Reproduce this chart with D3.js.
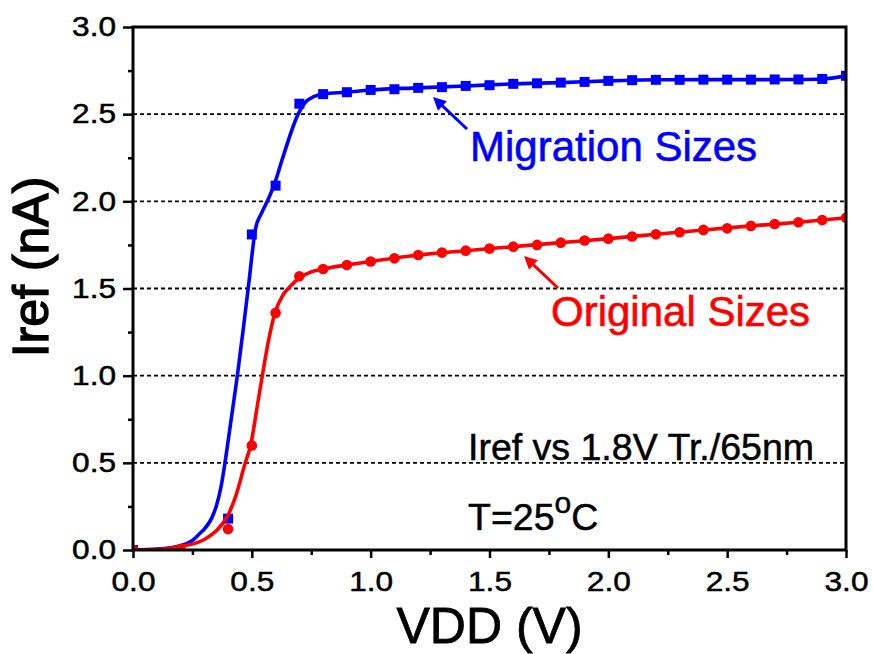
<!DOCTYPE html>
<html>
<head>
<meta charset="utf-8">
<script src="https://cdn.jsdelivr.net/npm/d3@7"></script>
<style>
  body { margin: 0; background: #fff; }
  svg text { font-family: "Liberation Sans", Arial, sans-serif; }
</style>
</head>
<body>
<div id="chart"></div>
<script>
// measured points
const migX = [0, 0.4, 0.5, 0.6, 0.7, 0.8, 0.9, 1.0, 1.1, 1.2, 1.3, 1.4, 1.5, 1.6, 1.7, 1.8, 1.9, 2.0, 2.1, 2.2, 2.3, 2.4, 2.5, 2.6, 2.7, 2.8, 2.9, 3.0];
const migY = [0, 0.18, 1.81, 2.09, 2.56, 2.615, 2.626, 2.639, 2.643, 2.651, 2.655, 2.662, 2.666, 2.674, 2.677, 2.681, 2.685, 2.691, 2.695, 2.697, 2.697, 2.698, 2.698, 2.698, 2.699, 2.699, 2.702, 2.72];

const origX = [0, 0.2, 0.4, 0.5, 0.6, 0.7, 0.8, 0.9, 1.0, 1.1, 1.2, 1.3, 1.4, 1.5, 1.6, 1.7, 1.8, 1.9, 2.0, 2.1, 2.2, 2.3, 2.4, 2.5, 2.6, 2.7, 2.8, 2.9, 3.0];
const origY = [0, 0.005, 0.12, 0.60, 1.36, 1.57, 1.612, 1.635, 1.655, 1.673, 1.692, 1.706, 1.717, 1.729, 1.740, 1.750, 1.763, 1.775, 1.786, 1.798, 1.811, 1.823, 1.836, 1.845, 1.859, 1.870, 1.880, 1.893, 1.906];

// fitted curves
const migFitX = [0, 0.1, 0.2, 0.25, 0.282, 0.3, 0.33, 0.35, 0.37, 0.387, 0.41, 0.439, 0.465, 0.489, 0.503, 0.515, 0.54, 0.565, 0.594, 0.63, 0.695, 0.73, 0.76, 0.8, 0.9, 1.0, 1.2, 1.4, 1.6, 1.8, 2.0, 2.2, 2.4, 2.6, 2.8, 2.9, 3.0];
const migFitY = [0, 0.005, 0.025, 0.055, 0.096, 0.12, 0.18, 0.25, 0.36, 0.5, 0.72, 1.0, 1.28, 1.55, 1.72, 1.84, 1.93, 2.0, 2.094, 2.25, 2.5, 2.575, 2.60, 2.615, 2.626, 2.639, 2.651, 2.662, 2.674, 2.681, 2.691, 2.697, 2.698, 2.698, 2.699, 2.702, 2.72];

const origFitX = [0, 0.1, 0.2, 0.3, 0.35, 0.4, 0.43, 0.4725, 0.495, 0.52, 0.544, 0.57, 0.597, 0.63, 0.66, 0.7, 0.75, 0.8, 0.9, 1.0, 1.2, 1.4, 1.6, 1.8, 2.0, 2.2, 2.4, 2.6, 2.8, 3.0];
const origFitY = [0, 0.003, 0.02, 0.06, 0.11, 0.2, 0.3, 0.5, 0.6, 0.8, 1.0, 1.2, 1.36, 1.46, 1.51, 1.56, 1.595, 1.612, 1.635, 1.655, 1.692, 1.717, 1.740, 1.763, 1.786, 1.811, 1.836, 1.859, 1.880, 1.906];

const xMajor = [0, 0.5, 1.0, 1.5, 2.0, 2.5, 3.0];
const xMinor = [0.25, 0.75, 1.25, 1.75, 2.25, 2.75];
const yMajor = [0, 0.5, 1.0, 1.5, 2.0, 2.5, 3.0];
const yMinor = [0.25, 0.75, 1.25, 1.75, 2.25, 2.75];
const gridLevels = [0.5, 1.0, 1.5, 2.0, 2.5];

const W = 873, H = 654;
const L = 133, R = 846, T = 27, B = 550;
const stretch = 1.15; // tick labels in the source are drawn wide

const svg = d3.select("#chart").append("svg")
  .attr("width", W).attr("height", H);

const x = d3.scaleLinear().domain([0, 3]).range([L, R]);
const y = d3.scaleLinear().domain([0, 3]).range([B, T]);

svg.append("clipPath").attr("id", "plot")
  .append("rect").attr("x", L).attr("y", T).attr("width", R - L).attr("height", B - T);

// dashed grid
svg.append("g").selectAll("line").data(gridLevels).join("line")
  .attr("x1", L).attr("x2", R)
  .attr("y1", d => y(d)).attr("y2", d => y(d))
  .attr("stroke", "#000").attr("stroke-width", 1.8)
  .attr("stroke-dasharray", "4,3");

const plot = svg.append("g").attr("clip-path", "url(#plot)");

const line = d3.line().x(d => x(d[0])).y(d => y(d[1])).curve(d3.curveMonotoneX);

// blue series
plot.append("path").datum(d3.zip(migFitX, migFitY))
  .attr("d", line).attr("fill", "none").attr("stroke", "#0000ff").attr("stroke-width", 3.6);
plot.append("g").selectAll("rect").data(d3.zip(migX, migY)).join("rect")
  .attr("x", d => x(d[0]) - 5).attr("y", d => y(d[1]) - 5)
  .attr("width", 10).attr("height", 10).attr("fill", "#0000ff");

// red series
plot.append("path").datum(d3.zip(origFitX, origFitY))
  .attr("d", line).attr("fill", "none").attr("stroke", "#ff0000").attr("stroke-width", 3.6);
plot.append("g").selectAll("circle").data(d3.zip(origX, origY)).join("circle")
  .attr("cx", d => x(d[0])).attr("cy", d => y(d[1]))
  .attr("r", 5.3).attr("fill", "#ff0000");

// axes
svg.append("g").attr("transform", `translate(0,${B})`)
  .call(d3.axisBottom(x).tickValues(xMajor).tickSize(8).tickSizeOuter(0).tickPadding(13).tickFormat(d3.format(".1f")));
svg.append("g").attr("transform", `translate(0,${B})`)
  .call(d3.axisBottom(x).tickValues(xMinor).tickSize(5).tickSizeOuter(0).tickFormat(""));
const yAxis = svg.append("g").attr("transform", `translate(${L},0)`)
  .call(d3.axisLeft(y).tickValues(yMajor).tickSize(10).tickSizeOuter(0).tickPadding(7).tickFormat(d3.format(".1f")));
svg.append("g").attr("transform", `translate(${L},0)`)
  .call(d3.axisLeft(y).tickValues(yMinor).tickSize(5).tickSizeOuter(0).tickFormat(""));

svg.selectAll(".domain").remove();
svg.selectAll(".tick line").attr("stroke", "#000").attr("stroke-width", 2.5);
svg.selectAll(".tick text")
  .attr("font-family", "Liberation Sans, Arial, sans-serif")
  .attr("font-size", 27.5).attr("fill", "#000")
  .attr("stroke", "#000").attr("stroke-width", 0.5)
  .attr("transform", `scale(${stretch},1)`);
yAxis.selectAll(".tick text").attr("x", -17 / stretch);

// frame
svg.append("rect").attr("x", L).attr("y", T).attr("width", R - L).attr("height", B - T)
  .attr("fill", "none").attr("stroke", "#000").attr("stroke-width", 3);

// axis titles
svg.append("text").attr("x", (L + R) / 2).attr("y", 643)
  .attr("text-anchor", "middle").attr("font-size", 50)
  .attr("stroke", "#000").attr("stroke-width", 0.8).text("VDD (V)");
svg.append("text").attr("transform", "translate(48,267) rotate(-90)")
  .attr("text-anchor", "middle").attr("font-size", 50)
  .attr("stroke", "#000").attr("stroke-width", 1.4).text("Iref (nA)");

// annotations
function arrow(x1, y1, x2, y2, color) {
  const a = Math.atan2(y2 - y1, x2 - x1);
  const len = 13, w = 6.5;
  const bx = x2 - len * Math.cos(a), by = y2 - len * Math.sin(a);
  svg.append("line").attr("x1", x1).attr("y1", y1).attr("x2", bx).attr("y2", by)
    .attr("stroke", color).attr("stroke-width", 3);
  svg.append("path")
    .attr("d", `M${x2},${y2}L${bx + w * Math.sin(a)},${by - w * Math.cos(a)}L${bx - w * Math.sin(a)},${by + w * Math.cos(a)}Z`)
    .attr("fill", color);
}
arrow(467, 129, 433, 97, "#0000ff");
arrow(558, 288, 524, 256, "#ff0000");

svg.append("text").attr("x", 470).attr("y", 161).attr("font-size", 42)
  .attr("fill", "#0000ff").attr("stroke", "#0000ff").attr("stroke-width", 0.6)
  .text("Migration Sizes");
svg.append("text").attr("x", 551).attr("y", 326).attr("font-size", 42)
  .attr("fill", "#ff0000").attr("stroke", "#ff0000").attr("stroke-width", 0.6)
  .text("Original Sizes");

svg.append("text").attr("x", 468).attr("y", 460).attr("font-size", 37.5)
  .attr("stroke", "#000").attr("stroke-width", 0.5)
  .text("Iref vs 1.8V Tr./65nm");
const t = svg.append("text").attr("x", 468).attr("y", 530).attr("font-size", 37.5)
  .attr("stroke", "#000").attr("stroke-width", 0.5);
t.append("tspan").text("T=25");
t.append("tspan").attr("font-size", 30).attr("dy", -17).text("o");
t.append("tspan").attr("dy", 17).text("C");
</script>
</body>
</html>
